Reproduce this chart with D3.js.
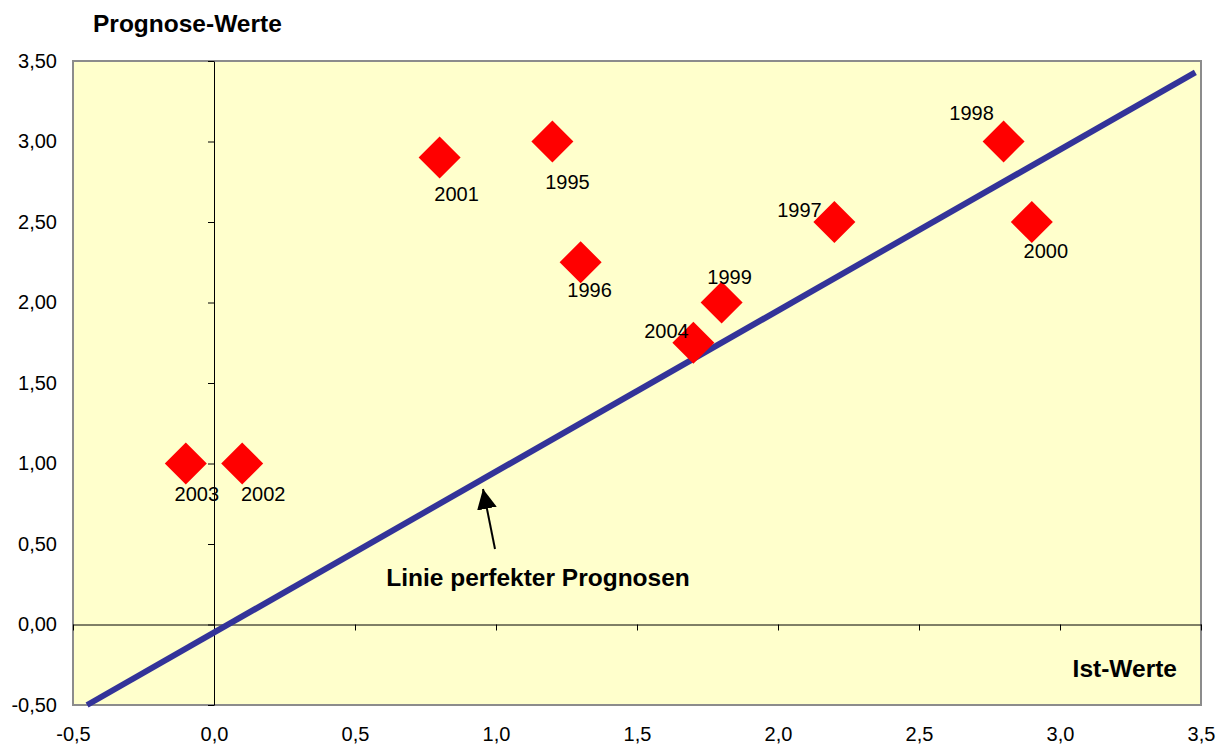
<!DOCTYPE html>
<html>
<head>
<meta charset="utf-8">
<script src="https://cdn.jsdelivr.net/npm/d3@7/dist/d3.min.js"></script>
<style>
  html, body { margin: 0; padding: 0; background: #ffffff; }
  svg { display: block; font-family: Arial, "Liberation Sans", sans-serif; }
</style>
</head>
<body>
<svg id="chart" width="1219" height="746"></svg>
<script>
// ---- Data ----
const years   = ["2003", "2002", "2001", "1995", "1996", "1999", "2004", "1997", "1998", "2000"];
const istWerte      = [-0.1, 0.1, 0.8, 1.2, 1.3, 1.8, 1.7, 2.2, 2.8, 2.9];
const prognoseWerte = [1.0, 1.0, 2.9, 3.0, 2.25, 2.0, 1.75, 2.5, 3.0, 2.5];
// label offsets (text centre relative to marker centre, px)
const labelDx = [11, 21, 17, 15, 9, 8, -27, -35, -32, 14];
const labelDy = [30, 30, 36, 40, 28, -26, -12, -12, -29, 29];
// line of perfect forecasts
const lineX = [-0.45, 3.48];
const lineY = [-0.5, 3.43];
const xTicks = [-0.5, 0, 0.5, 1.0, 1.5, 2.0, 2.5, 3.0, 3.5];
const yTicks = [-0.5, 0, 0.5, 1.0, 1.5, 2.0, 2.5, 3.0, 3.5];

// ---- Layout ----
const svg = d3.select("#chart");
const L = 73, R = 1201, T = 61, B = 705;
const x = d3.scaleLinear().domain([-0.5, 3.5]).range([L, R]);
const y = d3.scaleLinear().domain([-0.5, 3.5]).range([B, T]);
const loc = d3.formatLocale({decimal: ",", thousands: ".", grouping: [3], currency: ["", "€"], minus: "-"});
const fx = loc.format(".1f"), fy = loc.format(".2f");

// plot background
svg.append("rect").attr("x", L).attr("y", T).attr("width", R - L).attr("height", B - T)
  .attr("fill", "#FFFFCC").attr("stroke", "#8c8c8c").attr("stroke-width", 2);

// axes through zero with ticks
const yAxis = d3.axisLeft(y).tickValues(yTicks).tickSize(6).tickFormat("").tickSizeOuter(0);
svg.append("g").attr("transform", `translate(${x(0)},0)`).call(yAxis)
  .call(g => g.selectAll("path,line").attr("stroke", "#000").attr("stroke-width", 1));
const xAxis = d3.axisBottom(x).tickValues(xTicks).tickSize(6).tickFormat("").tickSizeOuter(0);
svg.append("g").attr("transform", `translate(0,${y(0)})`).call(xAxis)
  .call(g => g.selectAll("path,line").attr("stroke", "#000").attr("stroke-width", 1));

// tick labels at the plot edges
const yLab = d3.axisLeft(y).tickValues(yTicks).tickSize(0).tickPadding(16).tickFormat(fy);
svg.append("g").attr("transform", `translate(${L},0)`).call(yLab)
  .call(g => g.select(".domain").remove())
  .call(g => g.selectAll("text").attr("font-size", 20).attr("fill", "#000")
    .attr("font-family", "Arial, 'Liberation Sans', sans-serif"));
const xLab = d3.axisBottom(x).tickValues(xTicks).tickSize(0).tickPadding(22).tickFormat(fx);
svg.append("g").attr("transform", `translate(0,${B})`).call(xLab)
  .call(g => g.select(".domain").remove())
  .call(g => g.selectAll("text").attr("font-size", 20).attr("fill", "#000")
    .attr("font-family", "Arial, 'Liberation Sans', sans-serif"));

// perfect forecast line
svg.append("line")
  .attr("x1", x(lineX[0])).attr("y1", y(lineY[0]))
  .attr("x2", x(lineX[1])).attr("y2", y(lineY[1]))
  .attr("stroke", "#333399").attr("stroke-width", 6);

// markers
const pts = years.map((yr, i) => ({yr, xv: istWerte[i], yv: prognoseWerte[i], dx: labelDx[i], dy: labelDy[i]}));
const s = 21;
svg.append("g").selectAll("path").data(pts).join("path")
  .attr("d", d => `M${x(d.xv)},${y(d.yv) - s}L${x(d.xv) + s},${y(d.yv)}L${x(d.xv)},${y(d.yv) + s}L${x(d.xv) - s},${y(d.yv)}Z`)
  .attr("fill", "#FF0000");

// data labels
svg.append("g").selectAll("text").data(pts).join("text")
  .attr("x", d => x(d.xv) + d.dx).attr("y", d => y(d.yv) + d.dy)
  .attr("dy", "0.36em").attr("text-anchor", "middle")
  .attr("font-size", 20).attr("fill", "#000").text(d => d.yr);

// axis titles
svg.append("text").attr("x", 93).attr("y", 32).attr("font-size", 24.5).attr("font-weight", "bold")
  .attr("fill", "#000").text("Prognose-Werte");
svg.append("text").attr("x", 1177).attr("y", 677).attr("text-anchor", "end").attr("font-size", 24.5)
  .attr("font-weight", "bold").attr("fill", "#000").text("Ist-Werte");

// annotation
svg.append("text").attr("x", 538).attr("y", 586).attr("text-anchor", "middle").attr("font-size", 24.5)
  .attr("font-weight", "bold").attr("fill", "#000").text("Linie perfekter Prognosen");
svg.append("defs").append("marker").attr("id", "ah").attr("viewBox", "0 0 10 10")
  .attr("refX", 10).attr("refY", 5)
  .attr("markerUnits", "userSpaceOnUse").attr("orient", "auto")
  .attr("markerWidth", 20).attr("markerHeight", 20)
  .append("path").attr("d", "M0,0L10,5L0,10Z").attr("fill", "#000");
svg.append("line").attr("x1", 495).attr("y1", 549).attr("x2", 483).attr("y2", 489)
  .attr("stroke", "#000").attr("stroke-width", 2).attr("marker-end", "url(#ah)");
</script>
</body>
</html>
